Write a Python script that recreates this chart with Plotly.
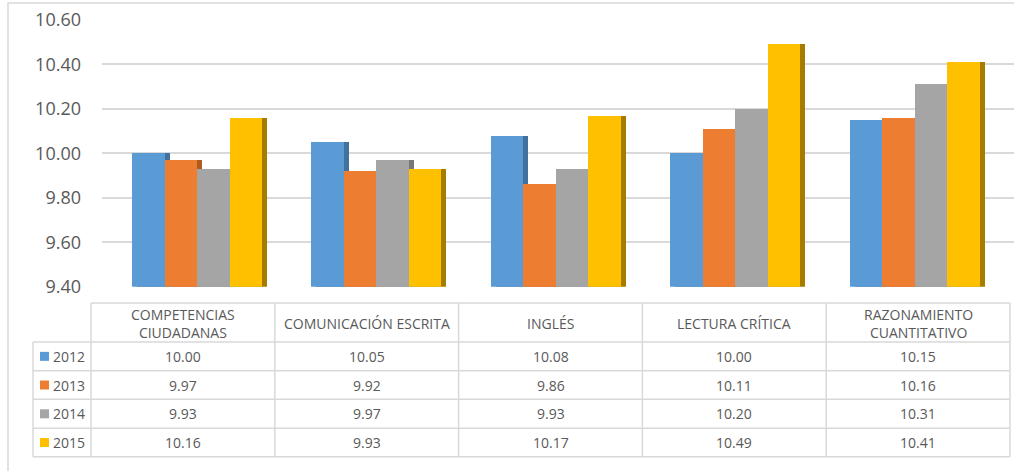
import plotly.graph_objects as go

# ---- data ----
categories = ["COMPETENCIAS CIUDADANAS", "COMUNICACIÓN ESCRITA", "INGLÉS",
              "LECTURA CRÍTICA", "RAZONAMIENTO CUANTITATIVO"]
header_labels = ["COMPETENCIAS<br>CIUDADANAS", "COMUNICACIÓN ESCRITA", "INGLÉS",
                 "LECTURA CRÍTICA", "RAZONAMIENTO<br>CUANTITATIVO"]
years = ["2012", "2013", "2014", "2015"]
v2012 = [10.00, 10.05, 10.08, 10.00, 10.15]
v2013 = [9.97, 9.92, 9.86, 10.11, 10.16]
v2014 = [9.93, 9.97, 9.93, 10.20, 10.31]
v2015 = [10.16, 9.93, 10.17, 10.49, 10.41]
y_ticks = [9.40, 9.60, 9.80, 10.00, 10.20, 10.40, 10.60]

series = [v2012, v2013, v2014, v2015]
colors = ["#5B9BD5", "#ED7D31", "#A5A5A5", "#FFC000"]
side_colors = ["#41719C", "#AE5A21", "#787878", "#A67C00"]

W, H = 1014, 471


def px(x):
    return x / W


def py(y):
    return 1 - y / H


# plot geometry (pixels)
plot_left, plot_right = 102, 1014
plot_top, plot_bottom = 20, 286.7
cat_w = 179.4
first_center = 197
xr0 = (plot_left - first_center) / cat_w
xr1 = (plot_right - first_center) / cat_w
bw = 32.5 / cat_w
shift = 5 / cat_w

fig = go.Figure()
xs = list(range(len(categories)))
for j, (vals, c, sc, yr) in enumerate(zip(series, colors, side_colors, years)):
    off = (j - 2) * bw
    fig.add_trace(go.Bar(x=xs, y=vals, width=bw, offset=off + shift,
                         marker=dict(color=sc, line=dict(width=0)),
                         showlegend=False, hoverinfo="skip"))
    fig.add_trace(go.Bar(x=xs, y=vals, width=bw, offset=off, name=yr,
                         marker=dict(color=c, line=dict(width=0)),
                         showlegend=False))

shapes = []
annotations = []
grid_col = "#D9D9D9"
text_col = "#595959"
font = "Open Sans, Liberation Sans, sans-serif"

# outer chart border
shapes.append(dict(type="rect", xref="paper", yref="paper",
                   x0=px(8), x1=px(1030), y0=py(3), y1=py(490),
                   line=dict(color=grid_col, width=1.5), fillcolor="rgba(0,0,0,0)"))

# table geometry
col_edges = [91 + 183.8 * k for k in range(len(categories) + 1)]
leg_left = 33
header_top, header_bottom = 303, 342
row_edges = [342, 370.7, 399.3, 428.3, 456.7]
line = dict(color=grid_col, width=1.5)

# horizontal lines
shapes.append(dict(type="line", xref="paper", yref="paper",
                   x0=px(col_edges[0]), x1=px(col_edges[-1]),
                   y0=py(header_top), y1=py(header_top), line=line))
for r in row_edges:
    shapes.append(dict(type="line", xref="paper", yref="paper",
                       x0=px(leg_left), x1=px(col_edges[-1]),
                       y0=py(r), y1=py(r), line=line))
# vertical lines
shapes.append(dict(type="line", xref="paper", yref="paper",
                   x0=px(leg_left), x1=px(leg_left),
                   y0=py(row_edges[0]), y1=py(row_edges[-1]), line=line))
for cx in col_edges:
    shapes.append(dict(type="line", xref="paper", yref="paper",
                       x0=px(cx), x1=px(cx),
                       y0=py(header_top), y1=py(row_edges[-1]), line=line))

# header labels
for k, lab in enumerate(header_labels):
    cx = (col_edges[k] + col_edges[k + 1]) / 2
    annotations.append(dict(xref="paper", yref="paper", x=px(cx),
                            y=py((header_top + header_bottom) / 2 + 1),
                            text=lab, showarrow=False, xanchor="center", yanchor="middle",
                            font=dict(family=font, size=14, color=text_col)))

# rows
for j, (vals, c, yr) in enumerate(zip(series, colors, years)):
    r0, r1 = row_edges[j], row_edges[j + 1]
    cy = (r0 + r1) / 2
    shapes.append(dict(type="rect", xref="paper", yref="paper",
                       x0=px(40), x1=px(49), y0=py(cy - 4.5), y1=py(cy + 4.5),
                       fillcolor=c, line=dict(width=0)))
    annotations.append(dict(xref="paper", yref="paper", x=px(51), y=py(cy),
                            text=yr, showarrow=False, xanchor="left", yanchor="middle",
                            font=dict(family=font, size=14, color=text_col)))
    for k, v in enumerate(vals):
        cx = (col_edges[k] + col_edges[k + 1]) / 2
        annotations.append(dict(xref="paper", yref="paper", x=px(cx), y=py(cy),
                                text=f"{v:.2f}", showarrow=False, xanchor="center",
                                yanchor="middle",
                                font=dict(family=font, size=14, color=text_col)))

fig.update_layout(
    width=W, height=H, autosize=False,
    margin=dict(l=0, r=0, t=0, b=0, pad=0, autoexpand=False),
    paper_bgcolor="white", plot_bgcolor="white",
    barmode="overlay", bargap=0,
    xaxis=dict(domain=[px(plot_left), px(plot_right)], range=[xr0, xr1],
               showticklabels=False, showgrid=False, zeroline=False, ticks="",
               automargin=False),
    yaxis=dict(domain=[py(plot_bottom), py(plot_top)], range=[9.40, 10.60],
               tickvals=y_ticks, tickformat=".2f", showgrid=True,
               gridcolor=grid_col, gridwidth=2, zeroline=False, showline=False,
               ticks="", ticklabelstandoff=20, automargin=False,
               tickfont=dict(family=font, size=18, color=text_col)),
    shapes=shapes, annotations=annotations,
)

fig.write_html("out.html", config={"responsive": False, "displayModeBar": False},
               post_script="document.body.style.margin='0';"
                           "document.body.style.overflow='hidden';")
